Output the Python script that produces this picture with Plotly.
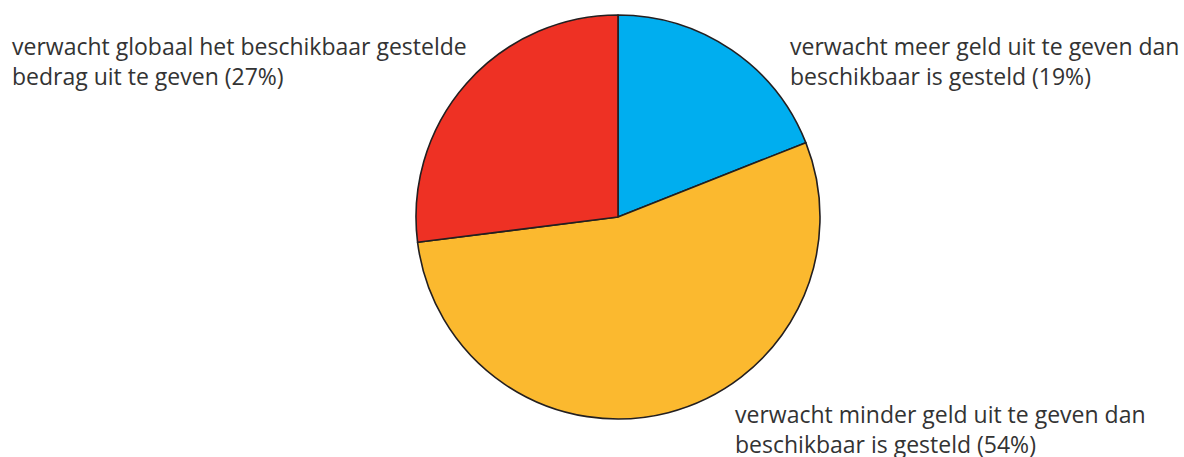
import plotly.graph_objects as go

# Shares of respondents by spending expectation (clockwise from 12 o'clock)
categories = [
    "verwacht meer geld uit te geven dan beschikbaar is gesteld",
    "verwacht minder geld uit te geven dan beschikbaar is gesteld",
    "verwacht globaal het beschikbaar gestelde bedrag uit te geven",
]
values = [19, 54, 27]
colors = ["#00AEEF", "#FBB92F", "#EE3124"]

# Label text, split into display lines, with its anchor (x px, first-line y px)
label_lines = [
    ["verwacht meer geld uit te geven dan", "beschikbaar is gesteld ({}%)"],
    ["verwacht minder geld uit te geven dan", "beschikbaar is gesteld ({}%)"],
    ["verwacht globaal het beschikbaar gestelde", "bedrag uit te geven ({}%)"],
]
label_pos = [(788, 46), (733, 414), (10, 46)]

W, H = 1184, 457
cx, cy, r = 618, 217, 202
line_gap = 30

fig = go.Figure(
    go.Pie(
        labels=categories,
        values=values,
        sort=False,
        direction="clockwise",
        rotation=0,
        marker=dict(colors=colors, line=dict(color="#231F20", width=1.6)),
        textinfo="none",
        hoverinfo="label+percent",
        showlegend=False,
        domain=dict(
            x=[(cx - r) / W, (cx + r) / W],
            y=[(H - cy - r) / H, (H - cy + r) / H],
        ),
    )
)

annotations = []
for lines, (lx, ly), v in zip(label_lines, label_pos, values):
    for i, line in enumerate(lines):
        annotations.append(
            dict(
                text=line.format(v),
                x=lx / W,
                y=(H - (ly + i * line_gap)) / H,
                xref="paper",
                yref="paper",
                xanchor="left",
                yanchor="middle",
                showarrow=False,
                font=dict(family="Open Sans", size=23, color="#333333"),
            )
        )

fig.update_layout(
    width=W,
    height=H,
    margin=dict(l=0, r=0, t=0, b=0),
    paper_bgcolor="white",
    plot_bgcolor="white",
    annotations=annotations,
)

fig.write_html("out.html")
